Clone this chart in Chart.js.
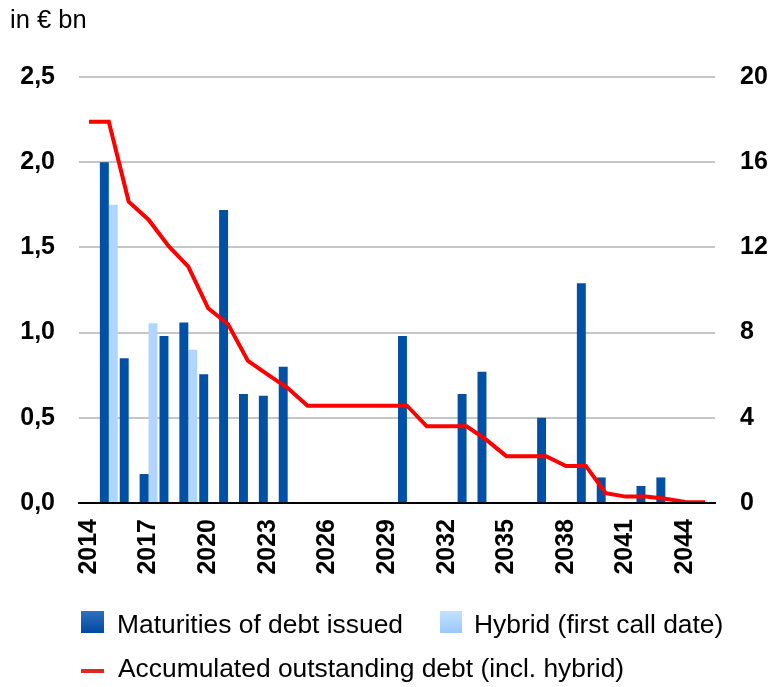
<!DOCTYPE html>
<html>
<head>
<meta charset="utf-8">
<script src="https://cdn.jsdelivr.net/npm/chart.js@4"></script>
<style>
  body { margin: 0; background: #fff; font-family: "Liberation Sans", Arial, sans-serif; }
  #wrap { position: relative; width: 773px; height: 687px; }
  canvas { position: absolute; left: 0; top: 0; }
  .txt { position: absolute; color: #000; white-space: nowrap; line-height: 30px; }
  .box { position: absolute; }
</style>
</head>
<body>
<div id="wrap">
  <canvas id="grafico" width="773" height="687"></canvas>
  <div class="txt" style="left:10px; top:4px; font-size:25.5px;">in € bn</div>
  <div class="box" style="left:81px; top:611px; width:23px; height:22px; background:linear-gradient(#2f6fc0,#0049a0);"></div>
  <div class="txt" style="left:117px; top:609px; font-size:26.4px;">Maturities of debt issued</div>
  <div class="box" style="left:440px; top:611px; width:22px; height:22px; background:linear-gradient(#c4e2ff,#98c8ff);"></div>
  <div class="txt" style="left:474px; top:609px; font-size:26.4px;">Hybrid (first call date)</div>
  <div class="box" style="left:81px; top:669px; width:23px; height:4px; background:#e4261e;"></div>
  <div class="txt" style="left:118px; top:653px; font-size:26.4px;">Accumulated outstanding debt (incl. hybrid)</div>
</div>
<script>
// Datos
const years = ['2014','2015','2016','2017','2018','2019','2020','2021','2022','2023',
  '2024','2025','2026','2027','2028','2029','2030','2031','2032','2033',
  '2034','2035','2036','2037','2038','2039','2040','2041','2042','2043',
  '2044','2045'];

// Vencimientos de deuda (eje izquierdo, € bn)
const maturities = [null, 2.0, 0.85, 0.17, 0.98, 1.06, 0.755, 1.72, 0.64, 0.63,
  0.80, null, null, null, null, null, 0.98, null, null, 0.64,
  0.77, null, null, 0.50, null, 1.29, 0.15, null, 0.10, 0.15,
  null, null];

// Híbrido (primera fecha de amortización)
const hybrid = [null, 1.75, null, 1.055, null, 0.90, null, null, null, null,
  null, null, null, null, null, null, null, null, null, null,
  null, null, null, null, null, null, null, null, null, null,
  null, null];

// Deuda acumulada pendiente (eje derecho)
const outstanding = [17.9, 17.9, 14.15, 13.3, 12.07, 11.1, 9.14, 8.39, 6.67, 6.03,
  5.4, 4.57, 4.57, 4.57, 4.57, 4.57, 4.57, 3.6, 3.6, 3.6,
  2.96, 2.2, 2.2, 2.2, 1.74, 1.74, 0.46, 0.3, 0.3, 0.2,
  0.05, 0.03];

const leftTicks = [0, 0.5, 1, 1.5, 2, 2.5];
const rightTicks = [0, 4, 8, 12, 16, 20];

Chart.defaults.font.family = '"Liberation Sans", Arial, sans-serif';
Chart.defaults.color = '#000';

const ctx = document.getElementById('grafico').getContext('2d');
new Chart(ctx, {
  type: 'bar',
  data: {
    labels: years,
    datasets: [
      {
        type: 'line',
        label: 'Accumulated outstanding debt (incl. hybrid)',
        data: outstanding,
        yAxisID: 'y2',
        borderColor: '#ff0000',
        borderWidth: 4,
        pointRadius: 0,
        tension: 0,
        fill: false,
        order: 0
      },
      {
        label: 'Maturities of debt issued',
        data: maturities,
        yAxisID: 'y',
        backgroundColor: '#0050a6',
        barPercentage: 1,
        categoryPercentage: 0.9,
        order: 1
      },
      {
        label: 'Hybrid (first call date)',
        data: hybrid,
        yAxisID: 'y',
        backgroundColor: '#b0d6ff',
        barPercentage: 1,
        categoryPercentage: 0.9,
        order: 2
      }
    ]
  },
  options: {
    responsive: false,
    animation: false,
    layout: { padding: { top: 77, bottom: 84, left: 0, right: 0 } },
    plugins: {
      legend: { display: false },
      tooltip: { enabled: false }
    },
    scales: {
      x: {
        grid: { display: false },
        border: { display: true, color: '#000', width: 2, z: 1 },
        ticks: {
          autoSkip: false,
          minRotation: 90,
          maxRotation: 90,
          padding: 8,
          font: { size: 25, weight: 'bold' },
          callback: (value, index) => index % 3 === 0 ? years[index] : ''
        },
        afterFit: scale => { scale.height = 100; }
      },
      y: {
        position: 'left',
        min: 0,
        max: 2.5,
        afterBuildTicks: scale => { scale.ticks = leftTicks.map(v => ({ value: v })); },
        grid: { color: '#c6c6c6', lineWidth: 2, drawTicks: false },
        border: { display: false },
        ticks: {
          padding: 24,
          font: { size: 25, weight: 'bold' },
          callback: value => value.toFixed(1).replace('.', ',')
        },
        afterFit: scale => { scale.width = 79; }
      },
      y2: {
        position: 'right',
        min: 0,
        max: 20,
        afterBuildTicks: scale => { scale.ticks = rightTicks.map(v => ({ value: v })); },
        grid: { display: false, drawTicks: false },
        border: { display: false },
        ticks: {
          padding: 25,
          font: { size: 25, weight: 'bold' },
          callback: value => String(value)
        },
        afterFit: scale => { scale.width = 58; }
      }
    }
  }
});
</script>
</body>
</html>
